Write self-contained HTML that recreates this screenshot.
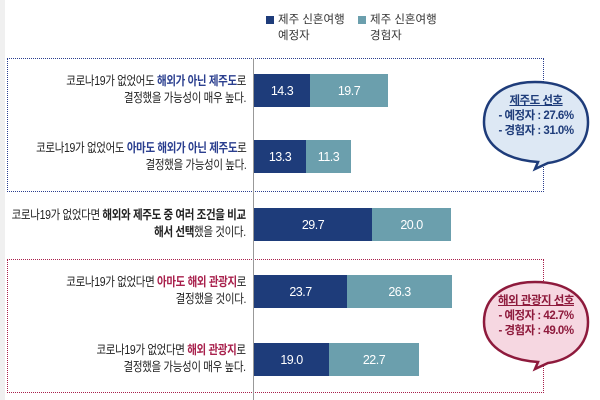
<!DOCTYPE html>
<html><head><meta charset="utf-8"><style>
body{margin:0;width:600px;height:400px;background:#fff;position:relative;overflow:hidden;font-family:"Liberation Sans","Noto Sans CJK KR",sans-serif;color:#222}
.a{position:absolute}
.lab{position:absolute;right:354px;text-align:right;font-size:12.5px;line-height:17px;letter-spacing:-0.4px;white-space:nowrap;transform:scaleX(0.84);transform-origin:right center}
.b{color:#2b3f8f;font-weight:bold}.p{color:#a8204c;font-weight:bold}.k{font-weight:bold}
.bar{position:absolute;height:33px;color:#fff;font-size:12.5px;display:flex;align-items:center;justify-content:center;letter-spacing:-0.5px}
.d{background:#1e3c7a}.l{background:#6b9fad}
</style></head><body>
<div class="a" style="left:0;top:0;width:5px;height:400px;background:#f0f0f0"></div>
<div class="a" style="left:266px;top:16px;width:8px;height:8px;background:#1e3c7a"></div>
<div class="a" style="left:278px;top:12px;font-size:11.5px;line-height:16px;color:#333">제주 신혼여행<br>예정자</div>
<div class="a" style="left:358px;top:16px;width:8px;height:8px;background:#6b9fad"></div>
<div class="a" style="left:370px;top:12px;font-size:11.5px;line-height:16px;color:#333">제주 신혼여행<br>경험자</div>
<div class="a" style="left:7px;top:58px;width:535px;height:132px;border:1.5px dotted #2b3f8f"></div>
<div class="a" style="left:7px;top:259px;width:535px;height:132px;border:1.5px dotted #a8204c"></div>
<div class="a" style="left:253px;top:58px;width:1px;height:342px;background:#999"></div>
<div class="lab" style="top:73px">코로나19가 없었어도 <span class="b">해외가 아닌 제주도</span>로<br>결정했을 가능성이 매우 높다.</div>
<div class="lab" style="top:140px">코로나19가 없었어도 <span class="b">아마도 해외가 아닌 제주도</span>로<br>결정했을 가능성이 높다.</div>
<div class="lab" style="top:207px">코로나19가 없었다면 <span class="k">해외와 제주도 중 여러 조건을 비교</span><br><span class="k">해서 선택</span>했을 것이다.</div>
<div class="lab" style="top:274px">코로나19가 없었다면 <span class="p">아마도 해외 관광지</span>로<br>결정했을 것이다.</div>
<div class="lab" style="top:342px">코로나19가 없었다면 <span class="p">해외 관광지</span>로<br>결정했을 가능성이 매우 높다.</div>
<div class="bar d" style="left:254px;top:74px;width:56px">14.3</div><div class="bar l" style="left:310px;top:74px;width:78px">19.7</div>
<div class="bar d" style="left:254px;top:140px;width:52px">13.3</div><div class="bar l" style="left:306px;top:140px;width:45px">11.3</div>
<div class="bar d" style="left:254px;top:208px;width:118px">29.7</div><div class="bar l" style="left:372px;top:208px;width:79px">20.0</div>
<div class="bar d" style="left:254px;top:275px;width:93px">23.7</div><div class="bar l" style="left:347px;top:275px;width:105px">26.3</div>
<div class="bar d" style="left:254px;top:343px;width:75px">19.0</div><div class="bar l" style="left:329px;top:343px;width:90px">22.7</div>
<svg class="a" style="left:0;top:0" width="600" height="400">
<path d="M535,82 C568,82 588,98 588,122 C588,146 570,160 548,163 L535,169 L538,162 C505,160 484,145 484,122 C484,98 503,82 535,82 Z" fill="#dde8f4" stroke="#1e3c7a" stroke-width="2.5"/>
<path d="M535,282 C568,282 588,298 588,322 C588,346 570,360 548,363 L535,369 L538,362 C505,360 484,345 484,322 C484,298 503,282 535,282 Z" fill="#f6d7e1" stroke="#8e1a3c" stroke-width="2.5"/>
</svg>
<div class="a" style="left:484px;top:94px;width:104px;text-align:center;font-size:11.5px;line-height:15px;color:#1e3c7a;font-weight:bold;letter-spacing:-0.5px"><u>제주도 선호</u><br>- 예정자 : 27.6%<br>- 경험자 : 31.0%</div>
<div class="a" style="left:484px;top:294px;width:104px;text-align:center;font-size:11.5px;line-height:15px;color:#8e1a3c;font-weight:bold;letter-spacing:-0.5px"><u>해외 관광지 선호</u><br>- 예정자 : 42.7%<br>- 경험자 : 49.0%</div>
</body></html>
